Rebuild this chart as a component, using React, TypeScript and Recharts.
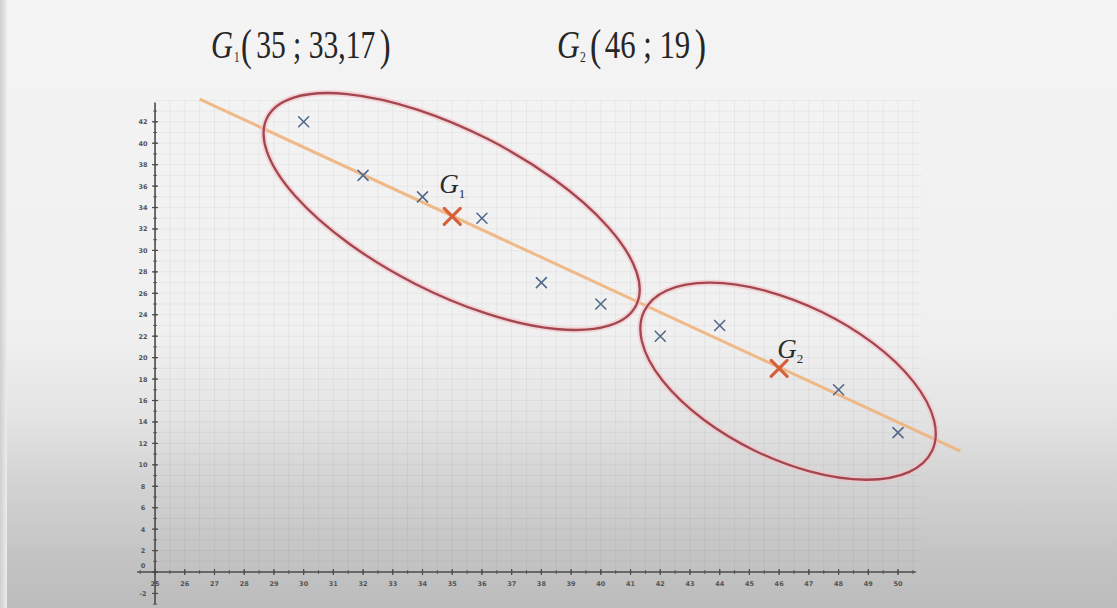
import React from 'react';
import {
  ComposedChart,
  XAxis,
  YAxis,
  Scatter,
  ReferenceLine,
  ReferenceDot,
} from 'recharts';

// Observed points (x, y)
const xValues = [30, 32, 34, 36, 38, 40, 42, 44, 48, 50];
const yValues = [42, 37, 35, 33, 27, 25, 22, 23, 17, 13];

// Mean points of the two groups
const centroidNames = ['1', '2'];
const centroidX = [35, 46];
const centroidY = [33.17, 19];

// Mayer line through G1 and G2, drawn between these two x values
const lineX = [26.5, 52.1];
const lineY = [44.12, 11.27];

// Group outlines (centres in data units)
const groupCenterX = [34.98, 46.3];
const groupCenterY = [33.63, 17.8];

// Axis tick labels
const xTickLabels = [
  25, 26, 27, 28, 29, 30, 31, 32, 33, 34, 35, 36, 37, 38, 39, 40, 41, 42, 43,
  44, 45, 46, 47, 48, 49, 50,
];
const yTickLabels = [
  -2, 0, 2, 4, 6, 8, 10, 12, 14, 16, 18, 20, 22, 24, 26, 28, 30, 32, 34, 36,
  38, 40, 42,
];

// Heading texts
const titleCoords = ['35 ; 33,17', '46 ; 19'];

const points = xValues.map((x, i) => ({ x, y: yValues[i] }));
const centroids = centroidNames.map((sub, i) => ({
  sub,
  x: centroidX[i],
  y: centroidY[i],
}));
const regression = lineX.map((x, i) => ({ x, y: lineY[i] }));

// graph-paper lines
const gridX: number[] = [];
for (let v = 25.5; v <= 50.51; v += 0.5) gridX.push(v);
const gridY: number[] = [];
for (let v = 1; v <= 44; v += 1) gridY.push(v);
const minorX: number[] = [];
for (let v = 24.5; v <= 50.51; v += 0.5) minorX.push(v);
const minorY: number[] = [];
for (let v = -3; v <= 43; v += 1) minorY.push(v);

const W = 1117;
const H = 608;
const MARGIN = { top: 25.3, right: 100.1, bottom: 3.8, left: 95.6 };

const AXIS = '#4a4a4a';
const POINT = '#52698a';
const CENTROID = '#d6603c';
const LINE = '#f0b27c';
const RING = '#a34650';
const RING_GLOW = '#f3c0c4';

const makeCross = (size: number, color: string, width: number) => (p: any) => {
  const { cx, cy } = p;
  if (cx == null || cy == null) return <g />;
  const h = size / 2;
  return (
    <g>
      <line x1={cx - h} y1={cy - h} x2={cx + h} y2={cy + h} stroke={color} strokeWidth={width} strokeLinecap="round" />
      <line x1={cx - h} y1={cy + h} x2={cx + h} y2={cy - h} stroke={color} strokeWidth={width} strokeLinecap="round" />
    </g>
  );
};

const PointCross = makeCross(10, POINT, 1.6);

const labelOffset: Record<string, { dx: number; dy: number }> = {
  '1': { dx: -13, dy: -23 },
  '2': { dx: -2, dy: -10 },
};

const CentroidMark = (p: any) => {
  const { cx, cy, payload } = p;
  if (cx == null || cy == null) return <g />;
  const h = 8;
  const off = labelOffset[payload.sub] || { dx: 0, dy: -12 };
  return (
    <g>
      <line x1={cx - h} y1={cy - h} x2={cx + h} y2={cy + h} stroke={CENTROID} strokeWidth={3.2} strokeLinecap="round" />
      <line x1={cx - h} y1={cy + h} x2={cx + h} y2={cy - h} stroke={CENTROID} strokeWidth={3.2} strokeLinecap="round" />
      <text
        x={cx + off.dx}
        y={cy + off.dy}
        fontFamily="'Liberation Serif', 'DejaVu Serif', serif"
        fontStyle="italic"
        fontSize={27}
        fill="#2b2b2b"
      >
        G
        <tspan fontStyle="normal" fontSize={13} dy={5}>
          {payload.sub}
        </tspan>
      </text>
    </g>
  );
};

const makeRing = (rx: number, ry: number, angle: number) => (p: any) => {
  const { cx, cy } = p;
  if (cx == null || cy == null) return <g />;
  return (
    <g transform={`rotate(${angle} ${cx} ${cy})`}>
      <ellipse cx={cx} cy={cy} rx={rx} ry={ry} fill="none" stroke={RING_GLOW} strokeWidth={6} opacity={0.6} />
      <ellipse cx={cx} cy={cy} rx={rx} ry={ry} fill="none" stroke={RING} strokeWidth={2.3} />
    </g>
  );
};

const ringShapes = [makeRing(207, 81, 27), makeRing(160, 77, 26)];

const XTick = (value: number) => (p: any) => {
  const { cx, cy } = p;
  if (cx == null || cy == null) return <g />;
  return (
    <g>
      <line x1={cx} y1={cy - 3} x2={cx} y2={cy + 3} stroke={AXIS} strokeWidth={1.2} />
      <text x={cx} y={cy + 14} textAnchor="middle" fontFamily="'DejaVu Sans', sans-serif" fontSize={6.5} fontWeight="bold" fill="#555">
        {value}
      </text>
    </g>
  );
};

const YTick = (value: number) => (p: any) => {
  const { cx, cy } = p;
  if (cx == null || cy == null) return <g />;
  const lift = value === 0 ? -7 : 0;
  return (
    <g>
      <line x1={cx - 3} y1={cy} x2={cx + 3} y2={cy} stroke={AXIS} strokeWidth={1.2} />
      <text x={cx - 12} y={cy + 2.5 + lift} textAnchor="middle" fontFamily="'DejaVu Sans', sans-serif" fontSize={6.5} fontWeight="bold" fill="#555">
        {value}
      </text>
    </g>
  );
};

const MinorTickX = (p: any) => {
  const { cx, cy } = p;
  if (cx == null || cy == null) return <g />;
  return <line x1={cx} y1={cy - 2} x2={cx} y2={cy + 2} stroke={AXIS} strokeWidth={0.8} />;
};
const MinorTickY = (p: any) => {
  const { cx, cy } = p;
  if (cx == null || cy == null) return <g />;
  return <line x1={cx - 2} y1={cy} x2={cx + 2} y2={cy} stroke={AXIS} strokeWidth={0.8} />;
};

const serif = "'Liberation Serif', 'DejaVu Serif', serif";
const INK = '#262626';

// One heading: italic G, index, then the coordinates between tall brackets.
// Drawn in a narrow face: the whole group is squeezed horizontally.
type TitleLayout = {
  left: number;
  squeeze: number;
  sub: number;
  open: number;
  body: number;
  close: number;
};

const Title = ({ sub, coords, at }: { sub: string; coords: string; at: TitleLayout }) => (
  <g transform={`translate(${at.left} 58) scale(${at.squeeze} 1)`} fontFamily={serif} fill={INK}>
    <text x={0} y={0} fontSize={41} fontStyle="italic">
      G
    </text>
    <text x={at.sub} y={4} fontSize={15}>
      {sub}
    </text>
    <text x={at.open} y={2} fontSize={44}>
      (
    </text>
    <text x={at.body} y={0} fontSize={40}>
      {coords}
    </text>
    <text x={at.close} y={2} fontSize={44}>
      )
    </text>
  </g>
);

const titleLayouts: TitleLayout[] = [
  { left: 211, squeeze: 0.74, sub: 31, open: 40.5, body: 61, close: 228 },
  { left: 557, squeeze: 0.77, sub: 30, open: 43, body: 62, close: 179 },
];

export default function App() {
  return (
    <div
      style={{
        position: 'fixed',
        left: 0,
        top: 0,
        width: W,
        height: H,
        overflow: 'hidden',
        background:
          'linear-gradient(to bottom, #f4f4f4 0%, #f0f0f0 55%, #e4e4e4 68%, #d2d2d2 80%, #c3c3c3 92%, #bcbcbc 100%)',
      }}
    >
      <div style={{ position: 'absolute', left: 0, top: 0, width: 7, height: H, background: 'linear-gradient(to right, #cfcfcf, #ececec)' }} />
      <div style={{ position: 'absolute', left: 0, top: 0 }}>
        <ComposedChart width={W} height={H} margin={MARGIN}>
          <XAxis type="number" dataKey="x" domain={[23, 54]} hide allowDataOverflow />
          <YAxis type="number" dataKey="y" domain={[-3, 51]} hide allowDataOverflow />

          {gridX.map((v) => (
            <ReferenceLine key={`gx${v}`} segment={[{ x: v, y: 0 }, { x: v, y: 44 }]} stroke="#000" strokeOpacity={0.045} strokeWidth={1} />
          ))}
          {gridY.map((v) => (
            <ReferenceLine key={`gy${v}`} segment={[{ x: 25, y: v }, { x: 50.8, y: v }]} stroke="#000" strokeOpacity={0.045} strokeWidth={1} />
          ))}

          <ReferenceLine segment={[{ x: 24.4, y: 0 }, { x: 50.6, y: 0 }]} stroke={AXIS} strokeWidth={1.6} />
          <ReferenceLine segment={[{ x: 25, y: -3 }, { x: 25, y: 43.8 }]} stroke={AXIS} strokeWidth={1.6} />

          {minorX.map((v) => (
            <ReferenceDot key={`mx${v}`} x={v} y={0} shape={MinorTickX} />
          ))}
          {minorY.map((v) => (
            <ReferenceDot key={`my${v}`} x={25} y={v} shape={MinorTickY} />
          ))}
          {xTickLabels.map((v) => (
            <ReferenceDot key={`xt${v}`} x={v} y={0} shape={XTick(v)} />
          ))}
          {yTickLabels.map((v) => (
            <ReferenceDot key={`yt${v}`} x={25} y={v} shape={YTick(v)} />
          ))}

          <ReferenceLine
            segment={[regression[0], regression[1]]}
            stroke={LINE}
            strokeWidth={3}
            strokeOpacity={0.9}
          />

          {groupCenterX.map((x, i) => (
            <ReferenceDot key={`ring${i}`} x={x} y={groupCenterY[i]} shape={ringShapes[i]} />
          ))}

          <Scatter data={points} shape={PointCross} isAnimationActive={false} />
          <Scatter data={centroids} shape={CentroidMark} isAnimationActive={false} />
        </ComposedChart>
      </div>
      <svg width={W} height={H} style={{ position: 'absolute', left: 0, top: 0, pointerEvents: 'none' }}>
        {centroidNames.map((name, i) => (
          <Title key={name} sub={name} coords={titleCoords[i]} at={titleLayouts[i]} />
        ))}
      </svg>
    </div>
  );
}
